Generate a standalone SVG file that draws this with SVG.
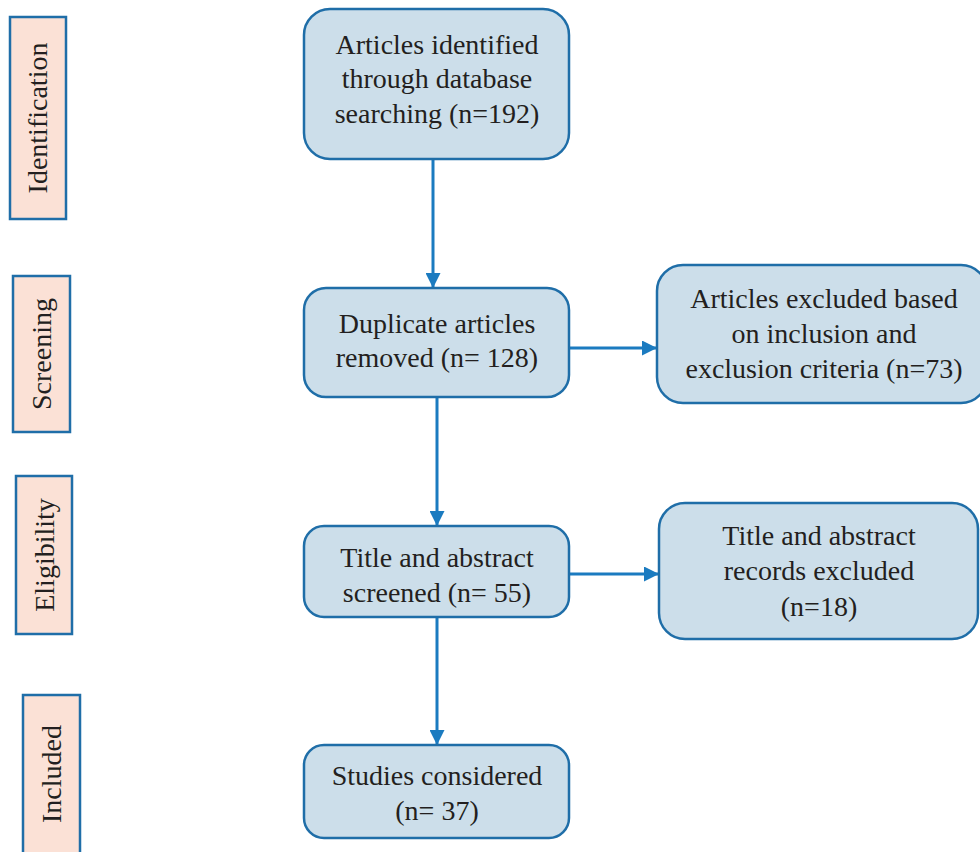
<svg xmlns="http://www.w3.org/2000/svg" width="980" height="852" viewBox="0 0 980 852">
<style>
.stage{fill:#FBE1D6;stroke:#1F6EA8;stroke-width:2.5}
.box{fill:#CCDEEA;stroke:#1F6EA8;stroke-width:2.5}
text{font-family:"Liberation Serif","Times New Roman",serif;font-size:28px;fill:#231F20;text-anchor:middle}
.conn{stroke:#1B7BC0;stroke-width:3;fill:none;marker-end:url(#ah)}
</style>
<defs>
<marker id="ah" viewBox="0 0 10 10" refX="10" refY="5" markerWidth="5" markerHeight="5" markerUnits="strokeWidth" orient="auto">
<path d="M0,0 L10,5 L0,10 z" fill="#1B7BC0"/>
</marker>
</defs>
<g id="stage-identification"><rect class="stage" x="10" y="17" width="56" height="202"/><text transform="translate(47,118) rotate(-90)">Identification</text></g>
<g id="stage-screening"><rect class="stage" x="13" y="276" width="57" height="156"/><text transform="translate(51,354) rotate(-90)">Screening</text></g>
<g id="stage-eligibility"><rect class="stage" x="16" y="476" width="56" height="158"/><text transform="translate(53.5,555) rotate(-90)">Eligibility</text></g>
<g id="stage-included"><rect class="stage" x="23" y="695" width="57" height="170"/><text transform="translate(61,774) rotate(-90)">Included</text></g>
<g id="connectors">
<line class="conn" x1="433" y1="159" x2="433" y2="288"/>
<line class="conn" x1="437" y1="397" x2="437" y2="526"/>
<line class="conn" x1="437" y1="617" x2="437" y2="745"/>
<line class="conn" x1="569" y1="348" x2="657" y2="348"/>
<line class="conn" x1="569" y1="574" x2="659" y2="574"/>
</g>
<g id="n1"><rect class="box" x="304" y="9" width="265" height="150" rx="26"/><text x="437" y="54">Articles identified</text><text x="437" y="88">through database</text><text x="437" y="123">searching (n=192)</text></g>
<g id="n2"><rect class="box" x="304" y="288" width="265" height="109" rx="22"/><text x="437" y="333">Duplicate articles</text><text x="437" y="367">removed (n= 128)</text></g>
<g id="n3"><rect class="box" x="657" y="265" width="330" height="138" rx="26"/><text x="824" y="308">Articles excluded based</text><text x="824" y="343">on inclusion and</text><text x="824" y="378">exclusion criteria (n=73)</text></g>
<g id="n4"><rect class="box" x="304" y="526" width="265" height="91" rx="20"/><text x="437" y="567">Title and abstract</text><text x="437" y="602">screened (n= 55)</text></g>
<g id="n5"><rect class="box" x="659" y="503" width="319" height="136" rx="26"/><text x="819" y="545">Title and abstract</text><text x="819" y="580">records excluded</text><text x="819" y="616">(n=18)</text></g>
<g id="n6"><rect class="box" x="304" y="745" width="265" height="93" rx="20"/><text x="437" y="785">Studies considered</text><text x="437" y="820">(n= 37)</text></g>
</svg>
